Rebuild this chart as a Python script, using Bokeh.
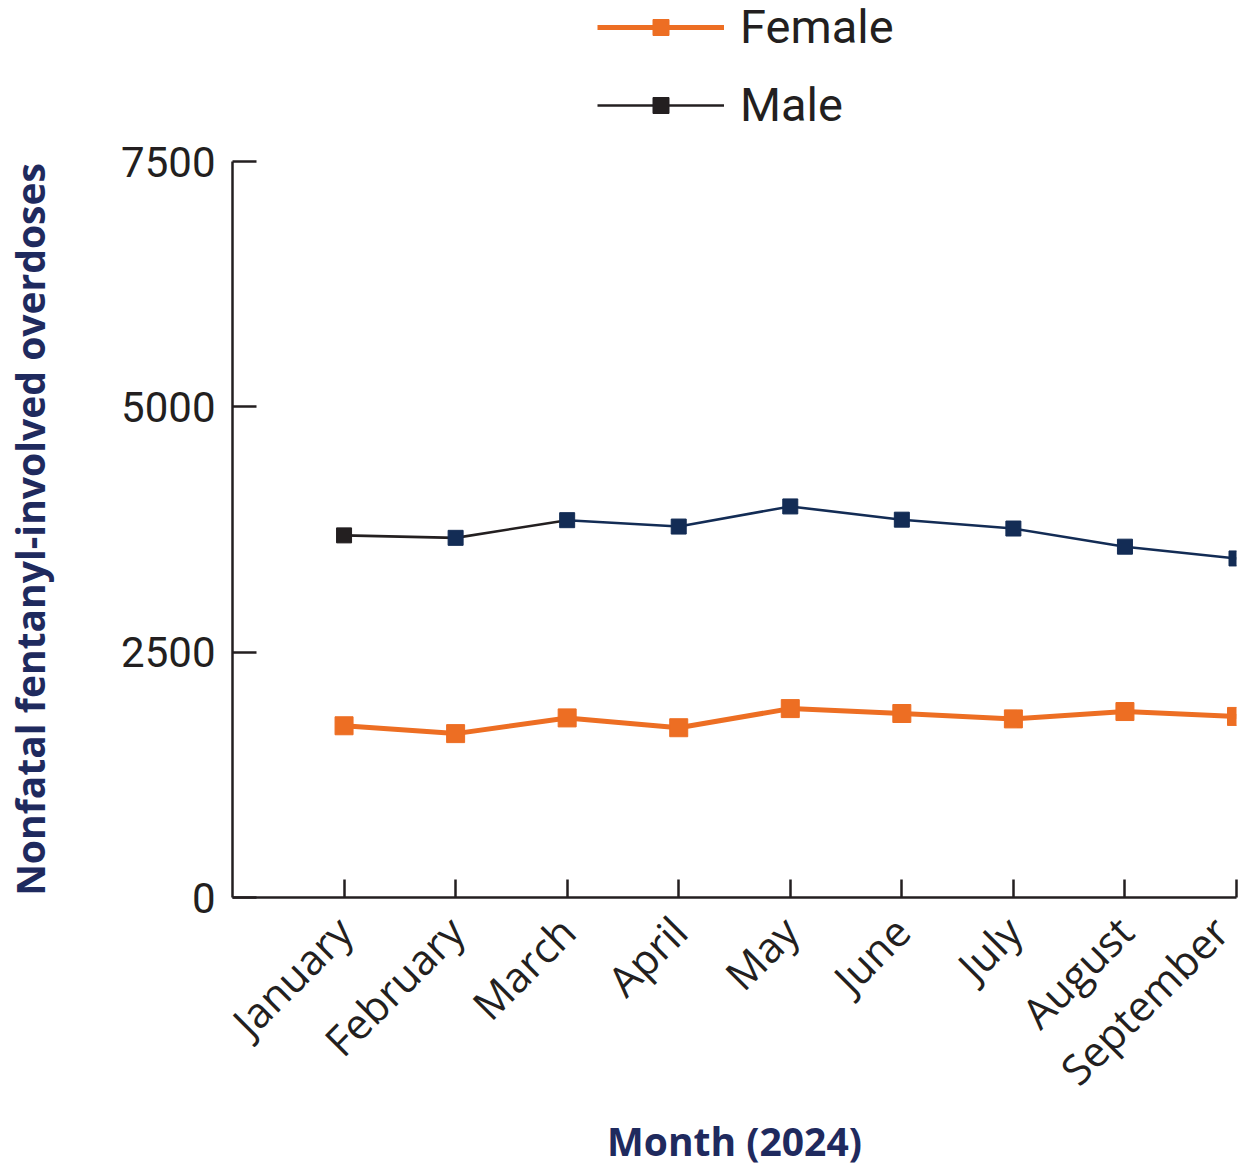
import math
from bokeh.plotting import figure
from bokeh.layouts import column
from bokeh.models import ColumnDataSource, Range1d, FixedTicker, Legend, LegendItem
from bokeh.embed import file_html
from bokeh.resources import INLINE

months = ["January", "February", "March", "April", "May", "June", "July", "August", "September"]
female = [1750, 1670, 1830, 1730, 1925, 1875, 1820, 1895, 1845]
male = [3690, 3665, 3845, 3780, 3985, 3850, 3760, 3575, 3455]
y_ticks = [0, 2500, 5000, 7500]

ORANGE = "#ed6e23"
NAVY = "#132c55"
BLACK = "#231f20"
TITLE = "#1f2a5e"

xs = list(range(1, len(months) + 1))

W, H_TOTAL = 1240, 1173
H_LEG = 134
H_MAIN = H_TOTAL - H_LEG
FRAME_LEFT, FRAME_RIGHT = 232, 1236
AXIS_TOP_PX, AXIS_BOTTOM_PX = 161, 897

seg_colors = [BLACK if i < 2 else NAVY for i in range(len(months) - 1)]
seg = ColumnDataSource(dict(x0=xs[:-1], y0=male[:-1], x1=xs[1:], y1=male[1:], c=seg_colors))
male_colors = [BLACK] + [NAVY] * (len(months) - 1)
msrc = ColumnDataSource(dict(x=xs, y=male, c=male_colors))
fsrc = ColumnDataSource(dict(x=xs, y=female))


def draw_series(fig):
    r1 = fig.segment("x0", "y0", "x1", "y1", source=seg, line_color="c", line_width=2.6)
    r2 = fig.scatter("x", "y", source=msrc, marker="square", size=15, fill_color="c", line_color="c")
    r3 = fig.line("x", "y", source=fsrc, line_color=ORANGE, line_width=5)
    r4 = fig.scatter("x", "y", source=fsrc, marker="square", size=18, fill_color=ORANGE, line_color=ORANGE)
    return r1, r2, r3, r4


# ---- legend strip (data drawn out of view, only the legend shows) ----
lg = figure(width=W, height=H_LEG, output_backend="svg", toolbar_location=None,
            x_range=Range1d(0, len(months)), y_range=Range1d(-2, -1), min_border=0)
lg.axis.visible = False
lg.grid.visible = False
lg.outline_line_color = None
l_seg, l_mpts, l_fline, l_fpts = draw_series(lg)
legend = Legend(items=[LegendItem(label="Female", renderers=[l_fline, l_fpts], index=0),
                       LegendItem(label="Male", renderers=[l_seg, l_mpts], index=0)],
                location=(597 - FRAME_LEFT, 2), orientation="vertical",
                border_line_color=None, background_fill_alpha=0, padding=0, margin=0, spacing=23,
                glyph_width=127, glyph_height=40, label_height=20, label_standoff=16,
                label_text_font="Roboto", label_text_font_size="47px", label_text_color=BLACK)
lg.add_layout(legend, "center")

# ---- main chart ----
p = figure(width=W, height=H_MAIN, output_backend="svg", toolbar_location=None,
           x_range=Range1d(0, len(months)), y_range=Range1d(0, y_ticks[-1]),
           min_border_left=FRAME_LEFT, min_border_top=AXIS_TOP_PX - H_LEG,
           min_border_right=W - FRAME_RIGHT, min_border_bottom=H_TOTAL - AXIS_BOTTOM_PX)
p.outline_line_color = None
p.grid.visible = False
draw_series(p)

xa = p.xaxis[0]
xa.ticker = FixedTicker(ticks=xs)
xa.major_label_overrides = {x: m for x, m in zip(xs, months)}
xa.major_label_orientation = math.pi / 4
xa.major_label_text_font = "Open Sans"
xa.major_label_text_font_size = "42px"
xa.major_label_text_color = BLACK
xa.major_label_standoff = 26
xa.major_tick_in = 18
xa.major_tick_out = 0
xa.minor_tick_line_color = None
xa.axis_line_width = 2.5
xa.axis_line_color = BLACK
xa.major_tick_line_width = 2.5
xa.major_tick_line_color = BLACK
xa.axis_label = "Month (2024)"
xa.axis_label_text_font = "Open Sans"
xa.axis_label_text_font_style = "bold"
xa.axis_label_text_font_size = "39px"
xa.axis_label_text_color = TITLE
xa.axis_label_standoff = -6

ya = p.yaxis[0]
ya.ticker = FixedTicker(ticks=y_ticks)
ya.major_label_text_font = "Roboto"
ya.major_label_text_font_size = "42px"
ya.major_label_text_color = BLACK
ya.major_label_standoff = 17
ya.major_tick_in = 24
ya.major_tick_out = 0
ya.minor_tick_line_color = None
ya.axis_line_width = 2.5
ya.axis_line_color = BLACK
ya.major_tick_line_width = 2.5
ya.major_tick_line_color = BLACK
ya.axis_label = "Nonfatal fentanyl-involved overdoses"
ya.axis_label_text_font = "Open Sans"
ya.axis_label_text_font_style = "bold"
ya.axis_label_text_font_size = "39px"
ya.axis_label_text_color = TITLE
ya.axis_label_standoff = 62

layout = column(lg, p, spacing=0)
open("out.html", "w").write(file_html(layout, INLINE))
